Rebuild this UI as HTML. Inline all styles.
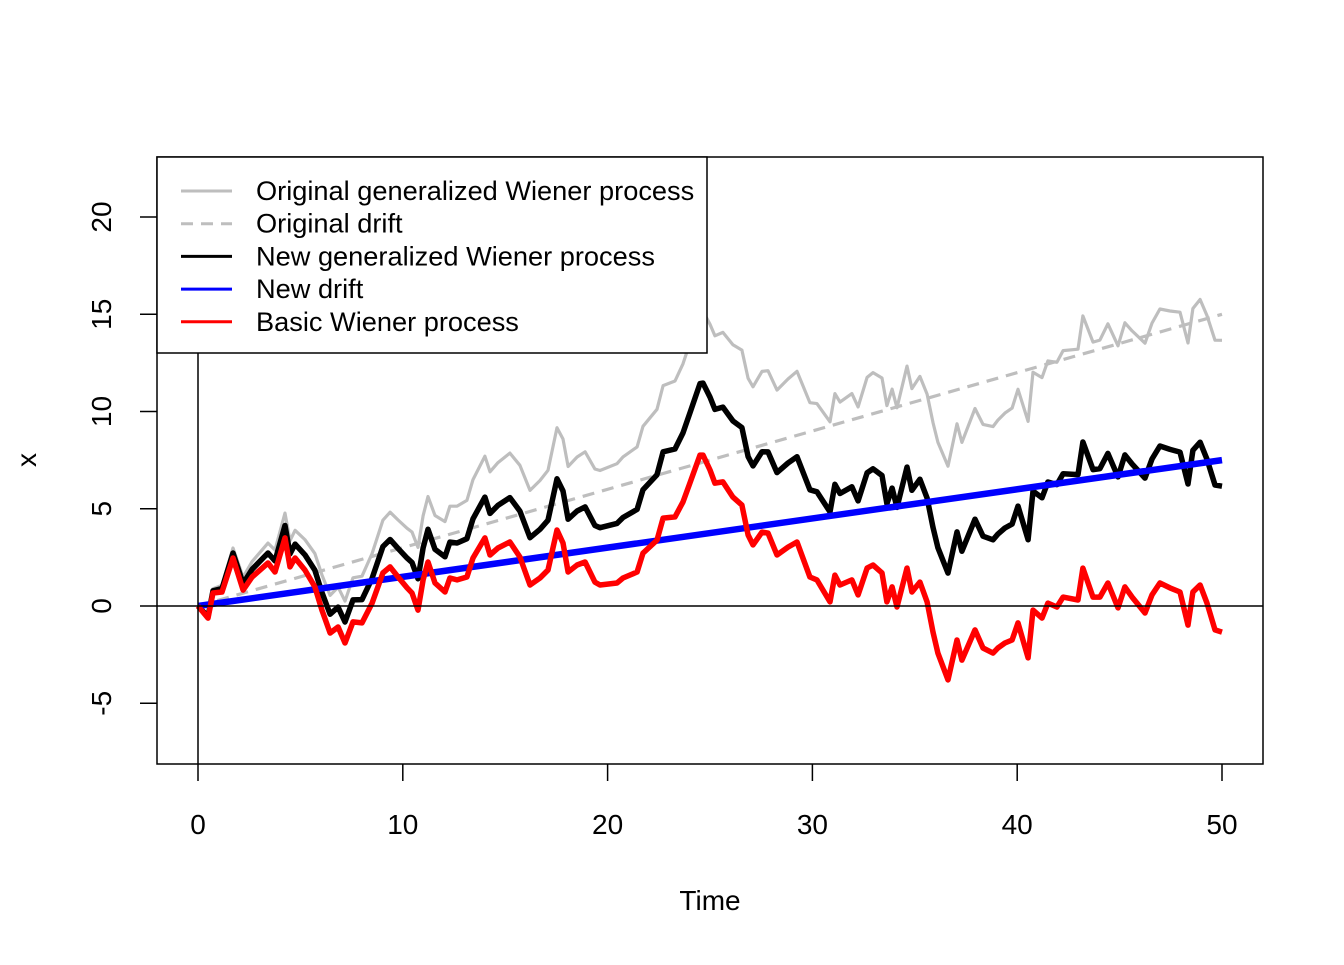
<!DOCTYPE html>
<html><head><meta charset="utf-8"><style>
html,body{margin:0;padding:0;background:#fff}
svg text{font-family:"Liberation Sans",Arial,sans-serif;fill:#000}
</style></head><body>
<svg id="chart" width="1344" height="960" viewBox="0 0 1344 960" xmlns="http://www.w3.org/2000/svg">
<rect width="1344" height="960" fill="#fff"/>
<g id="plot"></g>
</svg>
<script>
const times = [0,0.49,0.73,1.17,1.71,2.20,2.64,3.42,3.76,4.25,4.49,4.74,5.22,5.71,6.05,6.45,6.84,7.18,7.57,8.01,8.50,9.03,9.38,9.77,10.21,10.45,10.74,10.99,11.23,11.57,12.06,12.30,12.65,13.13,13.43,14.01,14.26,14.65,15.23,15.72,16.21,16.70,17.09,17.53,17.82,18.07,18.51,18.90,19.38,19.63,20.46,20.75,21.44,21.73,22.41,22.71,23.29,23.68,24.02,24.51,24.66,25.00,25.24,25.63,26.12,26.56,26.86,27.10,27.54,27.83,28.27,28.81,29.25,29.88,30.22,30.86,31.10,31.35,31.93,32.23,32.67,32.96,33.40,33.64,33.89,34.13,34.62,34.86,35.25,35.60,35.89,36.13,36.62,37.06,37.30,37.94,38.33,38.82,39.06,39.40,39.75,40.04,40.53,40.77,41.21,41.50,41.94,42.24,42.97,43.21,43.70,44.04,44.43,44.92,45.26,45.61,46.24,46.58,46.97,47.46,47.95,48.34,48.58,48.93,49.27,49.66,50.00];
const basicWiener = [0,-0.62,0.67,0.72,2.47,0.82,1.49,2.21,1.75,3.50,2.01,2.47,1.85,0.98,-0.21,-1.39,-1.08,-1.90,-0.82,-0.87,0.15,1.70,2.01,1.49,0.93,0.67,-0.21,1.34,2.26,1.18,0.72,1.44,1.34,1.49,2.47,3.50,2.62,2.98,3.29,2.52,1.08,1.44,1.85,3.91,3.24,1.75,2.11,2.26,1.23,1.08,1.18,1.44,1.75,2.72,3.39,4.52,4.58,5.35,6.32,7.76,7.76,6.99,6.32,6.38,5.60,5.19,3.65,3.14,3.80,3.75,2.62,3.03,3.29,1.49,1.34,0.21,1.59,1.08,1.34,0.57,1.95,2.11,1.70,0.21,0.98,-0.05,1.95,0.72,1.23,0.21,-1.34,-2.42,-3.80,-1.75,-2.78,-1.23,-2.16,-2.42,-2.16,-1.90,-1.75,-0.87,-2.67,-0.21,-0.62,0.15,-0.05,0.46,0.31,1.95,0.46,0.46,1.18,-0.10,0.98,0.46,-0.36,0.57,1.18,0.93,0.72,-0.98,0.72,1.08,0.15,-1.23,-1.34];
const originalDriftRate = [0.3];
const newDriftRate = [0.15];
const xTicks = [0,10,20,30,40,50];
const yTicks = [-5,0,5,10,15,20];
const legendLabels = ["Original generalized Wiener process","Original drift","New generalized Wiener process","New drift","Basic Wiener process"];

const NS="http://www.w3.org/2000/svg";
const g=document.getElementById('plot');
const L=157,R=1263,T=157,B=764;
function sx(t){return 198+(t-0)*(1222-198)/50;}
function sy(v){return 606-(v-0)*(606-217)/20;}
function mk(tag,attrs,parent){const e=document.createElementNS(NS,tag);for(const k in attrs)e.setAttribute(k,attrs[k]);(parent||g).appendChild(e);return e;}
function pathOf(ts,vs){return ts.map((t,i)=>(i?'L':'M')+sx(t).toFixed(1)+','+sy(vs[i]).toFixed(1)).join(' ');}

const clip=mk('clipPath',{id:'pc'});mk('rect',{x:L,y:T,width:R-L,height:B-T},clip);
const area=mk('g',{'clip-path':'url(#pc)'});



const origProc=basicWiener.map((v,i)=>v+originalDriftRate[0]*times[i]);
const newProc=basicWiener.map((v,i)=>v+newDriftRate[0]*times[i]);

let e;
e=mk('path',{d:pathOf(times,origProc),fill:'none',stroke:'#bebebe','stroke-width':3.2,'stroke-linejoin':'round'},area);


e=mk('path',{d:pathOf([0,50],[0,originalDriftRate[0]*50]),fill:'none',stroke:'#bebebe','stroke-width':3.2,'stroke-dasharray':'12,8'},area);


e=mk('path',{d:pathOf(times,newProc),fill:'none',stroke:'#000','stroke-width':5.5,'stroke-linejoin':'round'},area);


e=mk('path',{d:pathOf([0,50],[0,newDriftRate[0]*50]),fill:'none',stroke:'#0000ff','stroke-width':6.5},area);


e=mk('path',{d:pathOf(times,basicWiener),fill:'none',stroke:'#ff0000','stroke-width':5.5,'stroke-linejoin':'round'},area);


e=mk('line',{x1:L,x2:R,y1:sy(0),y2:sy(0),stroke:'#000','stroke-width':1.5},area);


e=mk('line',{x1:sx(0),x2:sx(0),y1:T,y2:B,stroke:'#000','stroke-width':1.5},area);



e=mk('rect',{x:L,y:T,width:R-L,height:B-T,fill:'none',stroke:'#000','stroke-width':1.5});



xTicks.forEach(t=>{
  let l=mk('line',{x1:sx(t),x2:sx(t),y1:B,y2:B+17,stroke:'#000','stroke-width':1.5});
  
  
  let tx=mk('text',{x:sx(t),y:834,'text-anchor':'middle','font-size':28});
  tx.textContent=t;
  
  
});
yTicks.forEach(v=>{
  let l=mk('line',{x1:L-17,x2:L,y1:sy(v),y2:sy(v),stroke:'#000','stroke-width':1.5});
  
  
  let tx=mk('text',{x:0,y:0,'text-anchor':'middle','font-size':28,transform:`translate(111,${sy(v)}) rotate(-90)`});
  tx.textContent=v;
  
  
});
e=mk('text',{x:710,y:910,'text-anchor':'middle','font-size':28});e.textContent='Time';


e=mk('text',{x:0,y:0,'text-anchor':'middle','font-size':28,transform:'translate(36,460) rotate(-90)'});e.textContent='x';



const lg=mk('g',{});


mk('rect',{x:L,y:T,width:550,height:196,fill:'#fff',stroke:'#000','stroke-width':1.5},lg);
const lcol=['#bebebe','#bebebe','#000','#0000ff','#ff0000'];
const ldash=['none','12,8','none','none','none'];
legendLabels.forEach((s,i)=>{
  const y=191+i*32.7;
  let ent=mk('g',{},lg);
  
  
  mk('line',{x1:181,x2:232,y1:y,y2:y,stroke:lcol[i],'stroke-width':3,'stroke-dasharray':ldash[i]},ent);
  let tx=mk('text',{x:256,y:y+9,'font-size':27.2},ent);tx.textContent=s;
});
</script>
</body></html>
